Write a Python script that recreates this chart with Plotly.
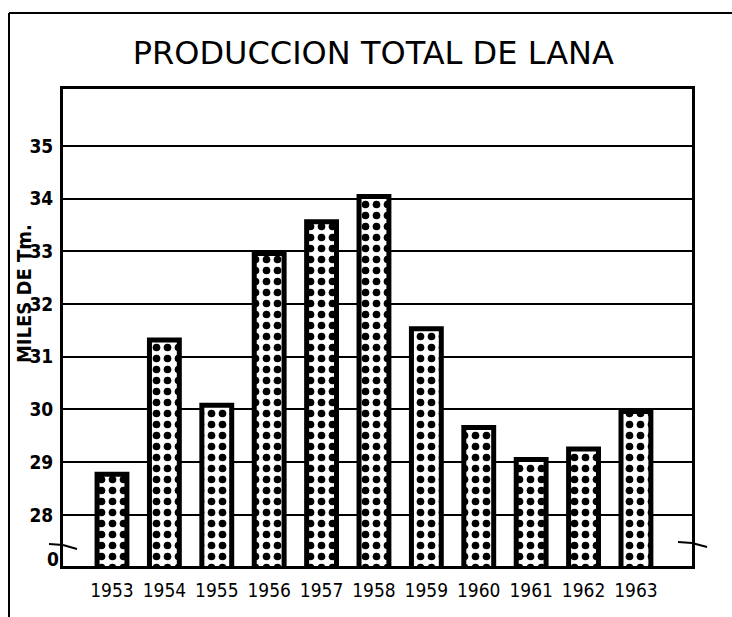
import plotly.graph_objects as go

years = [1953, 1954, 1955, 1956, 1957, 1958, 1959, 1960, 1961, 1962, 1963]
year_labels = [str(y) for y in years]
production = [28.77, 31.32, 30.08, 32.96, 33.56, 34.04, 31.53, 29.66, 29.05, 29.25, 29.96]
y_ticks = [28, 29, 30, 31, 32, 33, 34, 35]
y_tick_labels = [str(t) for t in y_ticks]
break_tick = [27.15]
break_label = ["0"]

FONT = "DejaVu Sans Condensed, DejaVu Sans, Liberation Sans"

fig = go.Figure()
fig.add_trace(go.Bar(
    x=years, y=production, width=0.57,
    marker=dict(color="white",
                line=dict(color="black", width=5),
                pattern=dict(shape=".", fgcolor="black", bgcolor="white",
                             fgopacity=1, size=11, solidity=0.38,
                             fillmode="replace")),
    showlegend=False, hoverinfo="x+y",
))
# invisible trace to carry the secondary axis (the broken-axis "0" label)
fig.add_trace(go.Scatter(x=[years[0]], y=[break_tick[0]], yaxis="y2",
                         mode="markers", marker=dict(opacity=0),
                         showlegend=False, hoverinfo="skip"))

yr = [27.03, 36.08]
fig.update_layout(
    width=732, height=617,
    margin=dict(l=63, r=40, t=89, b=51),
    paper_bgcolor="white", plot_bgcolor="white",
    font=dict(family=FONT, color="black"),
    xaxis=dict(range=[1952.065, 1964.07], tickvals=years, ticktext=year_labels,
               showgrid=False, showline=True, linecolor="black", linewidth=3,
               mirror=True, ticks="", tickfont=dict(size=19, family=FONT),
               ticklabelstandoff=5, zeroline=False),
    yaxis=dict(range=yr, tickvals=y_ticks, ticktext=y_tick_labels,
               showgrid=True, gridcolor="black", gridwidth=1.5,
               showline=True, linecolor="black", linewidth=3, mirror=True,
               ticks="", tickfont=dict(size=19, family=FONT, weight="bold"),
               zeroline=False, ticklabelstandoff=3),
    yaxis2=dict(range=yr, overlaying="y", side="left", tickvals=break_tick,
                ticktext=break_label, showgrid=False, showline=False,
                ticks="", tickfont=dict(size=19, family=FONT, weight="bold"),
                zeroline=False, ticklabelstandoff=3),
    title=dict(text="PRODUCCION TOTAL DE LANA", x=0.51, xanchor="center",
               y=0.915, yanchor="middle",
               font=dict(size=32, family="DejaVu Sans, Liberation Sans", color="black")),
    annotations=[dict(text="<b>MILES DE Tm.</b>", xref="paper", yref="paper",
                      x=-0.062, y=0.57, textangle=-90, showarrow=False,
                      font=dict(size=20, family=FONT), xanchor="center",
                      yanchor="middle")],
)

# outer frame of the printed figure
px = lambda p: (p - 63) / 629.0
py = lambda p: (566 - p) / 477.0
frame = [
    (9, 13, 9, 617), (9, 13, 732, 13),
]
for x0, y0, x1, y1 in frame:
    fig.add_shape(type="line", xref="paper", yref="paper",
                  x0=px(x0), y0=py(y0), x1=px(x1), y1=py(y1),
                  line=dict(color="black", width=2))
# axis break marks
breaks = [
    (49, 544, 63, 545), (63, 545, 77, 549),
    (678, 542, 692, 543), (692, 543, 707, 547),
]
for x0, y0, x1, y1 in breaks:
    fig.add_shape(type="line", xref="paper", yref="paper",
                  x0=px(x0), y0=py(y0), x1=px(x1), y1=py(y1),
                  line=dict(color="black", width=2))

fig.write_html("out.html", config={"displayModeBar": False},
               post_script="document.body.style.margin='0px';")
